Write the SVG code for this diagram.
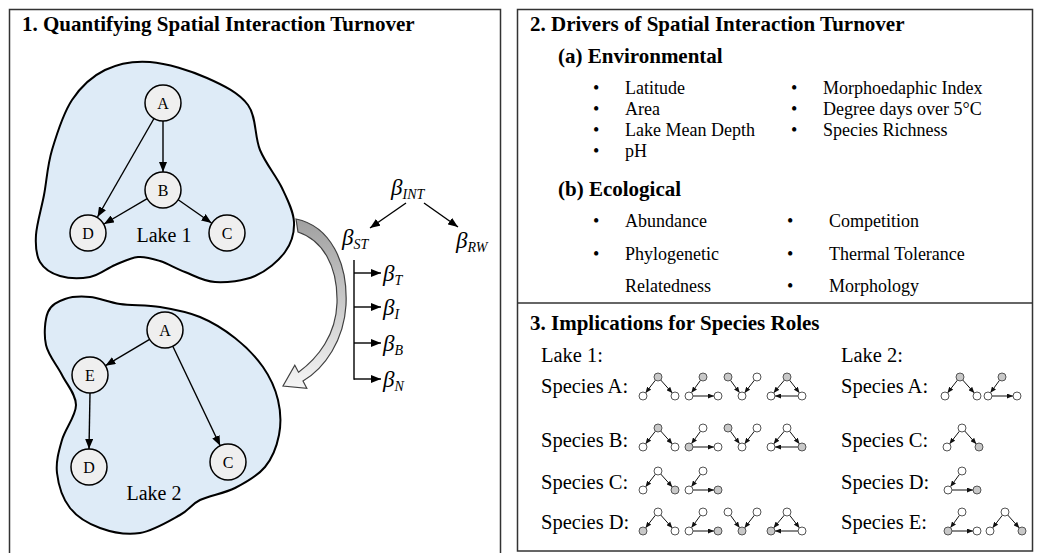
<svg xmlns="http://www.w3.org/2000/svg" xmlns:xlink="http://www.w3.org/1999/xlink" width="1041" height="553" viewBox="0 0 1041 553">
<style>
text{font-family:"Liberation Serif","Times New Roman",serif;fill:#000}
.h{font-size:21px;font-weight:bold}
.t{font-size:18px}
.sp{font-size:20.5px}
.nl{font-size:16px;text-anchor:middle}
.lk{font-size:20px;text-anchor:middle}
.beta{font-size:23px;font-style:italic}
.sub{font-size:14px;font-style:italic}
.panel{fill:none;stroke:#333;stroke-width:1.5}
.lake{fill:#deebf7;stroke:#000;stroke-width:2}
.node{fill:#efefef;stroke:#000;stroke-width:1.5}
.edge{stroke:#000;stroke-width:1.4;fill:none;marker-end:url(#ah)}
.medge{stroke:#111;stroke-width:1;fill:none;marker-end:url(#ahs)}
.mw{fill:#fff;stroke:#555;stroke-width:1}
.mg{fill:#c8c8c8;stroke:#555;stroke-width:1}
</style>
<defs>
<marker id="ah" viewBox="0 0 10 8" refX="10" refY="4" markerWidth="10" markerHeight="8" markerUnits="userSpaceOnUse" orient="auto"><path d="M0,0 L10,4 L0,8 z" fill="#000"/></marker>
<marker id="ahs" viewBox="0 0 6 5" refX="6" refY="2.5" markerWidth="6" markerHeight="5" markerUnits="userSpaceOnUse" orient="auto"><path d="M0,0 L6,2.5 L0,5 z" fill="#111"/></marker>
<linearGradient id="gr" x1="0" y1="0" x2="0" y2="1"><stop offset="0" stop-color="#a0a0a0"/><stop offset="1" stop-color="#f5f5f5"/></linearGradient>
<g id="m1e"><line class="medge" x1="-2.5" y1="3.1" x2="-12.5" y2="15.9"/><line class="medge" x1="2.7" y1="3" x2="14.3" y2="16"/></g>
<g id="m2e"><line class="medge" x1="11.6" y1="-15.8" x2="2.4" y2="-3.2"/><line class="medge" x1="4" y1="0" x2="25" y2="0"/></g>
<g id="m3e"><line class="medge" x1="-11.6" y1="-15.8" x2="-2.4" y2="-3.2"/><line class="medge" x1="12.5" y1="-15.9" x2="2.5" y2="-3.1"/></g>
<g id="m4e"><line class="medge" x1="-2.6" y1="3.1" x2="-13.4" y2="15.9"/><line class="medge" x1="2.5" y1="3.1" x2="12.5" y2="15.9"/><line class="medge" x1="11" y1="19" x2="-12" y2="19"/></g>
</defs>
<rect width="1041" height="553" fill="#fff"/>
<g id="panels">
<rect class="panel" x="9.5" y="9.5" width="491" height="550"/>
<rect class="panel" x="517.5" y="9.5" width="515" height="541.5"/>
<line class="panel" x1="517.5" y1="303" x2="1032.5" y2="303"/>
</g>
<g id="panel1-title"><text class="h" x="22" y="31">1. Quantifying Spatial Interaction Turnover</text></g>
<g id="lake1">
<path class="lake" d="M150,62 C167,63.3 190.7,70.8 207,78 C223.3,85.2 239.2,93 248,105 C256.8,117 254.3,136.2 260,150 C265.7,163.8 276.3,176 282,188 C287.7,200 293.5,211.3 294,222 C294.5,232.7 291.5,243 285,252 C278.5,261 266.7,271 255,276 C243.3,281 226.7,282.7 215,282 C203.3,281.3 194.2,275.5 185,272 C175.8,268.5 167.8,263.5 160,261 C152.2,258.5 145.5,256.3 138,257 C130.5,257.7 123,261.7 115,265 C107,268.3 99.2,275.2 90,277 C80.8,278.8 68.3,278.5 60,276 C51.7,273.5 44,268.8 40,262 C36,255.2 35.3,246.2 36,235 C36.7,223.8 41.3,209.2 44,195 C46.7,180.8 47.3,165.8 52,150 C56.7,134.2 63.2,113.3 72,100 C80.8,86.7 92,76.3 105,70 C118,63.7 133,60.7 150,62 Z"/>
<text class="lk" x="164" y="242">Lake 1</text>
</g>
<g id="lake2">
<path class="lake" d="M90,297 C99.2,297.8 108.3,302.3 120,304 C131.7,305.7 146.7,304.8 160,307 C173.3,309.2 187.5,311.8 200,317 C212.5,322.2 224.5,329.7 235,338 C245.5,346.3 255.8,356.7 263,367 C270.2,377.3 275.3,388.7 278,400 C280.7,411.3 281.2,423.8 279,435 C276.8,446.2 272.3,458.2 265,467 C257.7,475.8 245.8,482.5 235,488 C224.2,493.5 209.2,495.5 200,500 C190.8,504.5 190,509.5 180,515 C170,520.5 153.3,530.8 140,533 C126.7,535.2 111.7,532.2 100,528 C88.3,523.8 77.2,517.2 70,508 C62.8,498.8 58.3,484.3 57,473 C55.7,461.7 58.8,451.3 62,440 C65.2,428.7 76,415.8 76,405 C76,394.2 67,385 62,375 C57,365 48.3,355.5 46,345 C43.7,334.5 44.8,319.7 48,312 C51.2,304.3 58,301.5 65,299 C72,296.5 80.8,296.2 90,297 Z"/>
<text class="lk" x="154" y="500">Lake 2</text>
</g>
<g id="l1-A"><circle class="node" cx="163" cy="103" r="18"/><text class="nl" x="163" y="109">A</text></g>
<g id="l1-B"><circle class="node" cx="163" cy="190" r="18"/><text class="nl" x="163" y="196">B</text></g>
<g id="l1-D"><circle class="node" cx="88" cy="233" r="18"/><text class="nl" x="88" y="239">D</text></g>
<g id="l1-C"><circle class="node" cx="227" cy="233" r="18"/><text class="nl" x="227" y="239">C</text></g>
<g id="l2-A"><circle class="node" cx="165" cy="330" r="18"/><text class="nl" x="165" y="336">A</text></g>
<g id="l2-E"><circle class="node" cx="90" cy="375" r="18"/><text class="nl" x="90" y="381">E</text></g>
<g id="l2-D"><circle class="node" cx="89" cy="467" r="18"/><text class="nl" x="89" y="473">D</text></g>
<g id="l2-C"><circle class="node" cx="228" cy="462" r="18"/><text class="nl" x="228" y="468">C</text></g>
<g id="curved-arrow">
<path d="M296,219 C330,226 348,262 346,305 C344,340 325,368 303,381 L306.8,388.3 L283,386 L294.8,365.3 L298.5,372.2 C318,358 336,335 337,303 C338,265 322,240 298,232 Z" fill="url(#gr)" stroke="#404040" stroke-width="1.2" stroke-linejoin="miter"/>
</g>
<g id="beta-INT"><text class="beta" x="391" y="195">β<tspan class="sub" dy="4">INT</tspan></text></g>
<g id="beta-ST"><text class="beta" x="342" y="245">β<tspan class="sub" dy="4">ST</tspan></text></g>
<g id="beta-RW"><text class="beta" x="456" y="248">β<tspan class="sub" dy="4">RW</tspan></text></g>
<g id="beta-T"><text class="beta" x="383" y="281">β<tspan class="sub" dy="4">T</tspan></text></g>
<g id="beta-I"><text class="beta" x="383" y="315">β<tspan class="sub" dy="4">I</tspan></text></g>
<g id="beta-B"><text class="beta" x="383" y="351">β<tspan class="sub" dy="4">B</tspan></text></g>
<g id="beta-N"><text class="beta" x="383" y="387">β<tspan class="sub" dy="4">N</tspan></text></g>
<g id="connectors">
<line class="edge" x1="163" y1="121" x2="163" y2="172"/>
<line class="edge" x1="154" y1="118.5" x2="97.5" y2="217"/>
<line class="edge" x1="147.2" y1="198.6" x2="104" y2="224"/>
<line class="edge" x1="178.2" y1="199.7" x2="211.5" y2="223"/>
<line class="edge" x1="149.6" y1="339.3" x2="105.4" y2="365.7"/>
<line class="edge" x1="90" y1="393" x2="89" y2="449"/>
<line class="edge" x1="172.8" y1="346.2" x2="220.2" y2="445.8"/>
<line class="edge" x1="406" y1="203" x2="370" y2="228"/>
<line class="edge" x1="424" y1="203" x2="458" y2="227"/>
<line stroke="#000" stroke-width="1.4" x1="354" y1="260" x2="354" y2="379.7"/>
<line class="edge" x1="354" y1="273" x2="381" y2="273"/>
<line class="edge" x1="354" y1="307" x2="381" y2="307"/>
<line class="edge" x1="354" y1="343" x2="381" y2="343"/>
<line class="edge" x1="354" y1="379" x2="381" y2="379"/>
</g>
<g id="panel2">
<text class="h" x="530" y="31">2. Drivers of Spatial Interaction Turnover</text>
<text class="h" x="558" y="63">(a) Environmental</text>
<text class="t" x="593" y="94">•</text><text class="t" x="625" y="94">Latitude</text>
<text class="t" x="593" y="115">•</text><text class="t" x="625" y="115">Area</text>
<text class="t" x="593" y="136">•</text><text class="t" x="625" y="136">Lake Mean Depth</text>
<text class="t" x="593" y="157">•</text><text class="t" x="625" y="157">pH</text>
<text class="t" x="791" y="94">•</text><text class="t" x="823" y="94">Morphoedaphic Index</text>
<text class="t" x="791" y="115">•</text><text class="t" x="823" y="115">Degree days over 5°C</text>
<text class="t" x="791" y="136">•</text><text class="t" x="823" y="136">Species Richness</text>
<text class="h" x="558" y="196">(b) Ecological</text>
<text class="t" x="593" y="227">•</text><text class="t" x="625" y="227">Abundance</text>
<text class="t" x="593" y="260">•</text><text class="t" x="625" y="260">Phylogenetic</text>
<text class="t" x="625" y="292">Relatedness</text>
<text class="t" x="787" y="227">•</text><text class="t" x="829" y="227">Competition</text>
<text class="t" x="787" y="260">•</text><text class="t" x="829" y="260">Thermal Tolerance</text>
<text class="t" x="787" y="292">•</text><text class="t" x="829" y="292">Morphology</text>
</g>
<g id="panel3">
<text class="h" x="530" y="330">3. Implications for Species Roles</text>
<text class="sp" x="541" y="362">Lake 1:</text>
<text class="sp" x="541" y="393">Species A:</text>
<text class="sp" x="541" y="447">Species B:</text>
<text class="sp" x="541" y="489">Species C:</text>
<text class="sp" x="541" y="529">Species D:</text>
<text class="sp" x="841" y="362">Lake 2:</text>
<text class="sp" x="841" y="393">Species A:</text>
<text class="sp" x="841" y="447">Species C:</text>
<text class="sp" x="841" y="489">Species D:</text>
<text class="sp" x="841" y="529">Species E:</text>
</g>
<g id="motifs-lake1">
<g transform="translate(658,377)"><use xlink:href="#m1e"/><circle class="mg" cx="0" cy="0" r="4"/><circle class="mw" cx="-15" cy="19" r="4"/><circle class="mw" cx="17" cy="19" r="4"/></g>
<g transform="translate(689,396)"><use xlink:href="#m2e"/><circle class="mg" cx="14" cy="-19" r="4"/><circle class="mw" cx="0" cy="0" r="4"/><circle class="mw" cx="29" cy="0" r="4"/></g>
<g transform="translate(742,396)"><use xlink:href="#m3e"/><circle class="mg" cx="-14" cy="-19" r="4"/><circle class="mw" cx="0" cy="0" r="4"/><circle class="mw" cx="15" cy="-19" r="4"/></g>
<g transform="translate(787,377)"><use xlink:href="#m4e"/><circle class="mg" cx="0" cy="0" r="4"/><circle class="mw" cx="-16" cy="19" r="4"/><circle class="mw" cx="15" cy="19" r="4"/></g>

<g transform="translate(658,428)"><use xlink:href="#m1e"/><circle class="mg" cx="0" cy="0" r="4"/><circle class="mw" cx="-15" cy="19" r="4"/><circle class="mw" cx="17" cy="19" r="4"/></g>
<g transform="translate(689,447)"><use xlink:href="#m2e"/><circle class="mw" cx="14" cy="-19" r="4"/><circle class="mg" cx="0" cy="0" r="4"/><circle class="mw" cx="29" cy="0" r="4"/></g>
<g transform="translate(742,447)"><use xlink:href="#m3e"/><circle class="mg" cx="-14" cy="-19" r="4"/><circle class="mw" cx="0" cy="0" r="4"/><circle class="mw" cx="15" cy="-19" r="4"/></g>
<g transform="translate(787,428)"><use xlink:href="#m4e"/><circle class="mw" cx="0" cy="0" r="4"/><circle class="mw" cx="-16" cy="19" r="4"/><circle class="mg" cx="15" cy="19" r="4"/></g>

<g transform="translate(658,471)"><use xlink:href="#m1e"/><circle class="mw" cx="0" cy="0" r="4"/><circle class="mw" cx="-15" cy="19" r="4"/><circle class="mg" cx="17" cy="19" r="4"/></g>
<g transform="translate(689,490)"><use xlink:href="#m2e"/><circle class="mw" cx="14" cy="-19" r="4"/><circle class="mw" cx="0" cy="0" r="4"/><circle class="mg" cx="29" cy="0" r="4"/></g>

<g transform="translate(658,512)"><use xlink:href="#m1e"/><circle class="mw" cx="0" cy="0" r="4"/><circle class="mg" cx="-15" cy="19" r="4"/><circle class="mw" cx="17" cy="19" r="4"/></g>
<g transform="translate(689,531)"><use xlink:href="#m2e"/><circle class="mw" cx="14" cy="-19" r="4"/><circle class="mw" cx="0" cy="0" r="4"/><circle class="mg" cx="29" cy="0" r="4"/></g>
<g transform="translate(742,531)"><use xlink:href="#m3e"/><circle class="mw" cx="-14" cy="-19" r="4"/><circle class="mg" cx="0" cy="0" r="4"/><circle class="mw" cx="15" cy="-19" r="4"/></g>
<g transform="translate(787,512)"><use xlink:href="#m4e"/><circle class="mw" cx="0" cy="0" r="4"/><circle class="mg" cx="-16" cy="19" r="4"/><circle class="mw" cx="15" cy="19" r="4"/></g>
</g>
<g id="motifs-lake2">
<g transform="translate(960,377)"><use xlink:href="#m1e"/><circle class="mg" cx="0" cy="0" r="4"/><circle class="mw" cx="-15" cy="19" r="4"/><circle class="mw" cx="17" cy="19" r="4"/></g>
<g transform="translate(988,396)"><use xlink:href="#m2e"/><circle class="mg" cx="14" cy="-19" r="4"/><circle class="mw" cx="0" cy="0" r="4"/><circle class="mw" cx="29" cy="0" r="4"/></g>
<g transform="translate(962,428)"><use xlink:href="#m1e"/><circle class="mw" cx="0" cy="0" r="4"/><circle class="mw" cx="-15" cy="19" r="4"/><circle class="mg" cx="17" cy="19" r="4"/></g>
<g transform="translate(948,490)"><use xlink:href="#m2e"/><circle class="mw" cx="14" cy="-19" r="4"/><circle class="mw" cx="0" cy="0" r="4"/><circle class="mg" cx="29" cy="0" r="4"/></g>
<g transform="translate(948,531)"><use xlink:href="#m2e"/><circle class="mw" cx="14" cy="-19" r="4"/><circle class="mg" cx="0" cy="0" r="4"/><circle class="mw" cx="29" cy="0" r="4"/></g>
<g transform="translate(1005,512)"><use xlink:href="#m1e"/><circle class="mw" cx="0" cy="0" r="4"/><circle class="mw" cx="-15" cy="19" r="4"/><circle class="mg" cx="17" cy="19" r="4"/></g>
</g>
</svg>
